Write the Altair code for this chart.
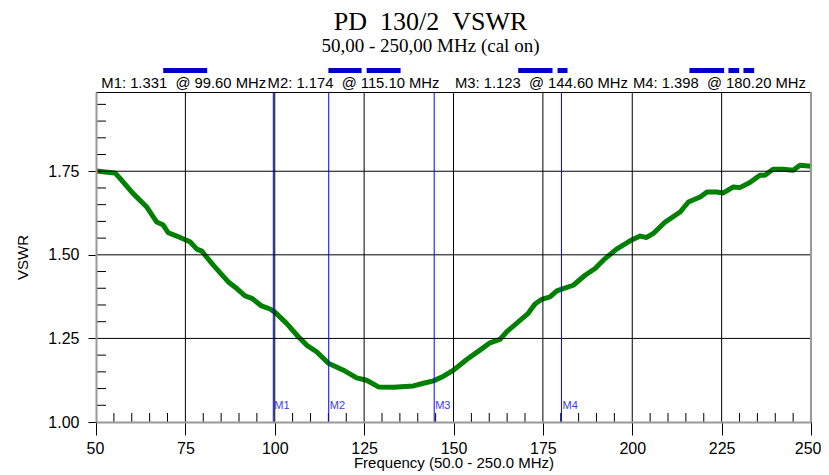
import altair as alt
import pandas as pd

# ---- data ----
freq = [50.2, 52.5, 55.3, 57.2, 60.4, 64.2, 67.0, 68.8, 70.2, 73.5, 76.3, 78.2, 79.6,
        82.8, 87.0, 89.4, 91.7, 93.6, 96.3, 98.7, 100.1, 103.3, 106.6, 108.9, 111.7,
        115.0, 119.2, 122.9, 125.7, 129.0, 133.2, 138.8, 141.6, 144.4, 147.2, 150.0,
        153.7, 157.4, 160.2, 163.0, 164.9, 170.9, 172.8, 174.7, 177.0, 178.9, 180.7,
        183.5, 186.8, 189.6, 191.9, 195.6, 199.4, 202.2, 204.0, 205.9, 209.2, 213.4,
        215.7, 219.0, 220.9, 223.6, 225.5, 228.3, 230.1, 232.9, 235.7, 237.1, 239.4,
        242.2, 245.0, 246.9, 250.0]
vswr = [1.751, 1.748, 1.745, 1.723, 1.683, 1.643, 1.598, 1.589, 1.566, 1.552, 1.539, 1.517, 1.511,
        1.469, 1.419, 1.399, 1.377, 1.370, 1.347, 1.338, 1.328, 1.295, 1.255, 1.230, 1.210,
        1.176, 1.155, 1.132, 1.125, 1.105, 1.104, 1.108, 1.116, 1.123, 1.137, 1.155,
        1.187, 1.215, 1.237, 1.247, 1.270, 1.325, 1.353, 1.367, 1.374, 1.392, 1.399,
        1.409, 1.439, 1.459, 1.484, 1.517, 1.542, 1.556, 1.552, 1.564, 1.598, 1.628,
        1.658, 1.673, 1.688, 1.688, 1.685, 1.703, 1.701, 1.716, 1.738, 1.738, 1.756,
        1.756, 1.753, 1.768, 1.765]

marker_names = ["M1", "M2", "M3", "M4"]
marker_freq = [99.6, 115.1, 144.6, 180.2]
marker_vswr = [1.331, 1.174, 1.123, 1.398]
readout_start = [51.5, 98.0, 150.4, 200.2]

bar_start = [68.8, 115.0, 125.7, 168.1, 179.1, 216.0, 226.9, 231.1]
bar_end = [81.1, 124.3, 135.2, 177.7, 181.9, 225.7, 229.9, 234.1]

x_ticks = [50, 75, 100, 125, 150, 175, 200, 225, 250]
y_ticks = [1.00, 1.25, 1.50, 1.75]
x_grid = [75, 100, 125, 150, 175, 200, 225]
y_grid = [1.25, 1.50, 1.75]
x_minor = [55, 60, 65, 70, 80, 85, 90, 95, 105, 110, 115, 120, 130, 135, 140, 145,
           155, 160, 165, 170, 180, 185, 190, 195, 205, 210, 215, 220, 230, 235, 240, 245]
y_minor = [1.05, 1.10, 1.15, 1.20, 1.30, 1.35, 1.40, 1.45, 1.55, 1.60, 1.65, 1.70,
           1.80, 1.85, 1.90, 1.95]

X_MIN, X_MAX = 50, 250
Y_MIN, Y_MAX = 1.0, 1.987
W, H = 715, 330

curve = pd.DataFrame({"freq": freq, "vswr": vswr})
markers = pd.DataFrame({"name": marker_names, "freq": marker_freq, "vswr": marker_vswr,
                        "start": readout_start})
nb = "\u00a0"
markers["label"] = [f"{n}: {v:.3f}{nb}{nb}@ {f:.2f} MHz" for n, v, f in
                    zip(marker_names, marker_vswr, marker_freq)]
bars = pd.DataFrame({"x1": bar_start, "x2": bar_end})
xgrid_df = pd.DataFrame({"freq": x_grid})
ygrid_df = pd.DataFrame({"vswr": y_grid})
xminor_df = pd.DataFrame({"freq": x_minor})
yminor_df = pd.DataFrame({"vswr": y_minor})
one = pd.DataFrame({"freq": [X_MAX]})

xs = alt.Scale(domain=[X_MIN, X_MAX], nice=False, zero=False)
ys = alt.Scale(domain=[Y_MIN, Y_MAX], nice=False, zero=False)
FONT = "Liberation Sans"

x_axis = alt.Axis(values=x_ticks, grid=False, format="d", tickColor="black", tickSize=13,
                  tickWidth=1, domainColor="#999999", domainWidth=2, labelFont=FONT,
                  labelFontSize=16, labelColor="black", labelPadding=5, labelFlush=True,
                  labelFlushOffset=10,
                  title="Frequency (50.0 - 250.0 MHz)", titleFont=FONT, titleFontSize=15,
                  titleFontWeight="normal", titleColor="black", titlePadding=-1, zindex=1)
y_axis = alt.Axis(values=y_ticks, grid=False, format=".2f", tickColor="black", tickSize=8,
                  tickWidth=1, domainColor="#999999", domainWidth=2, labelFont=FONT,
                  labelFontSize=16, labelColor="black", labelPadding=9,
                  title="VSWR", titleFont=FONT, titleFontSize=15, titleFontWeight="normal",
                  titleColor="black", titlePadding=17, zindex=1)

X = lambda f: alt.X(f, scale=xs, axis=x_axis, title="Frequency (50.0 - 250.0 MHz)")
Y = lambda f: alt.Y(f, scale=ys, axis=y_axis, title="VSWR")

xgrid = alt.Chart(xgrid_df).mark_rule(color="black", strokeWidth=1).encode(
    x=X("freq:Q"), y=alt.value(0), y2=alt.value(H))
ygrid = alt.Chart(ygrid_df).mark_rule(color="black", strokeWidth=1).encode(
    y=Y("vswr:Q"), x=alt.value(0), x2=alt.value(W))
xminor = alt.Chart(xminor_df).mark_rule(color="black", strokeWidth=1).encode(
    x=X("freq:Q"), y=alt.value(H), y2=alt.value(H - 9))
yminor = alt.Chart(yminor_df).mark_rule(color="black", strokeWidth=1).encode(
    y=Y("vswr:Q"), x=alt.value(0), x2=alt.value(10))
rborder = alt.Chart(one).mark_rule(color="#999999", strokeWidth=2).encode(
    x=X("freq:Q"), y=alt.value(0), y2=alt.value(H))

mlines = alt.Chart(markers).mark_rule(color="#0000ff", strokeWidth=1).encode(
    x=X("freq:Q"), y=alt.value(0), y2=alt.value(H))
mlabels = alt.Chart(markers).mark_text(color="#3a3aff", font=FONT, fontSize=11,
                                       align="left", baseline="middle", dx=1).encode(
    x=X("freq:Q"), y=alt.value(H - 16), text="name:N")

line = alt.Chart(curve).mark_line(color="#008000", strokeWidth=5, strokeJoin="round").encode(
    x=X("freq:Q"), y=Y("vswr:Q"))

readouts = alt.Chart(markers).mark_text(color="black", font=FONT, fontSize=14.8,
                                        align="left", baseline="alphabetic").encode(
    x=X("start:Q"), y=alt.value(-4), text="label:N")
barmarks = alt.Chart(bars).mark_rect(color="#0000cc").encode(
    x=X("x1:Q"), x2="x2:Q", y=alt.value(-24), y2=alt.value(-19))

chart = alt.layer(line, xgrid, ygrid, xminor, yminor, mlines, mlabels, rborder,
                  readouts, barmarks).properties(
    width=W, height=H,
    autosize=alt.AutoSizeParams(type="none"),
    padding={"left": 88, "top": 84, "right": 10, "bottom": 51},
    title=alt.TitleParams(text="PD\u00a0\u00a0130/2\u00a0\u00a0VSWR",
                          subtitle="50,00 - 250,00 MHz (cal on)",
                          font="Liberation Serif", fontSize=26, fontWeight="normal",
                          color="black", subtitleFont="Liberation Serif",
                          subtitleFontSize=19, subtitleColor="black",
                          subtitlePadding=2, anchor="middle", dx=-23, offset=12)
).configure_view(stroke="black", strokeWidth=1)

chart.save("out.html", embed_options={"renderer": "svg", "actions": False})
